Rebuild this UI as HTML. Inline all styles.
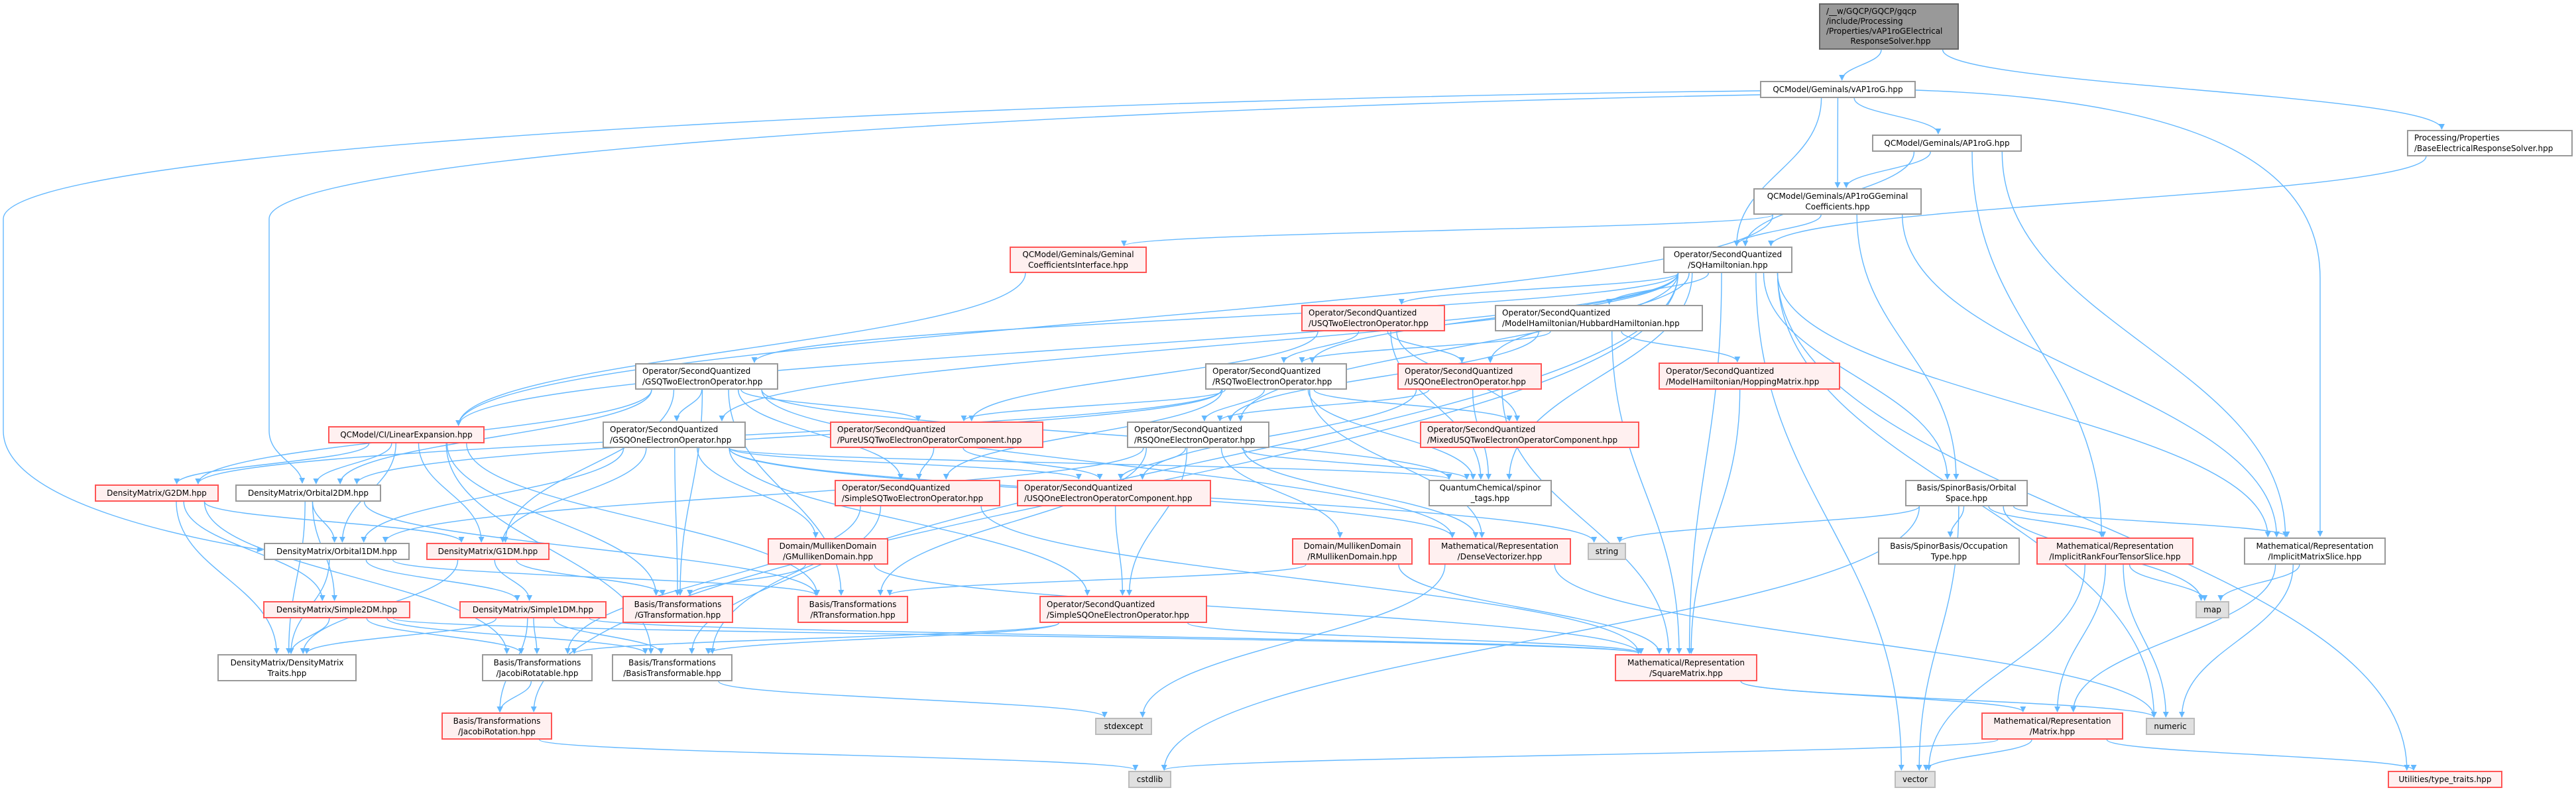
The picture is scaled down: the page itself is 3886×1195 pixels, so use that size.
<!DOCTYPE html>
<html><head><meta charset="utf-8">
<style>
html,body{margin:0;padding:0;background:#fff;}
#wrap{position:relative;width:3886px;height:1195px;overflow:hidden;background:#fff;}
svg{position:absolute;left:0;top:0;}
.n{position:absolute;box-sizing:border-box;border:2px solid #999;background:#fff;font-family:"DejaVu Sans","Liberation Sans",sans-serif;font-size:12px;line-height:16px;color:#000;display:flex;flex-direction:column;justify-content:center;text-align:center;white-space:nowrap;padding:0 4px;}
.r{border-color:#f55;background:#fff0f0;}
.e{border-color:#bbb;background:#e0e0e0;}
.root{background:#999;border-color:#666;}
.l{text-align:left;padding-left:9px;}
</style></head><body><div id="wrap">
<svg id="sv" width="3886" height="1195" xmlns="http://www.w3.org/2000/svg">
<defs><marker id="ah" viewBox="0 0 10 10" refX="9" refY="5" markerWidth="9" markerHeight="9" orient="auto" markerUnits="userSpaceOnUse"><path d="M0,0 L10,5 L0,10 z" fill="#63b8ff"/></marker></defs>
<g id="eg" fill="none" stroke="#63b8ff" stroke-width="1.4">
<path d="M2655,137 C1500,150 5,220 5,330 L5,650 C5,760 300,815 396,830" marker-end="url(#ah)"/>
<path d="M2655,143 C1500,165 406,240 406,330 L406,650 C406,690 455,700 456,729" marker-end="url(#ah)"/>
<path d="M2890,136 C3300,150 3500,240 3500,420 L3500,809" marker-end="url(#ah)"/>
</g>
</svg>
<div class="n root l" id="root" style="left:2744px;top:5px;width:211px;height:70px;line-height:15px">/__w/GQCP/GQCP/gqcp<br>/include/Processing<br>/Properties/vAP1roGElectrical<br><span style="display:block;text-align:center">ResponseSolver.hpp</span></div>
<div class="n" id="vap" style="left:2655px;top:122px;width:235px;height:26px">QCModel/Geminals/vAP1roG.hpp</div>
<div class="n" id="ap" style="left:2824px;top:203px;width:226px;height:26px">QCModel/Geminals/AP1roG.hpp</div>
<div class="n l" id="ber" style="left:3631px;top:196px;width:250px;height:40px">Processing/Properties<br>/BaseElectricalResponseSolver.hpp</div>
<div class="n" id="apgc" style="left:2645px;top:284px;width:254px;height:40px">QCModel/Geminals/AP1roGGeminal<br>Coefficients.hpp</div>
<div class="n r" id="gci" style="left:1523px;top:372px;width:207px;height:40px">QCModel/Geminals/Geminal<br>CoefficientsInterface.hpp</div>
<div class="n" id="sqh" style="left:2509px;top:372px;width:195px;height:40px">Operator/SecondQuantized<br>/SQHamiltonian.hpp</div>
<div class="n r l" id="usq2" style="left:1963px;top:460px;width:217px;height:40px">Operator/SecondQuantized<br>/USQTwoElectronOperator.hpp</div>
<div class="n l" id="hub" style="left:2255px;top:460px;width:314px;height:40px">Operator/SecondQuantized<br>/ModelHamiltonian/HubbardHamiltonian.hpp</div>
<div class="n r l" id="hop" style="left:2502px;top:547px;width:274px;height:41px">Operator/SecondQuantized<br>/ModelHamiltonian/HoppingMatrix.hpp</div>
<div class="n l" id="rsq2" style="left:1818px;top:548px;width:214px;height:40px">Operator/SecondQuantized<br>/RSQTwoElectronOperator.hpp</div>
<div class="n r l" id="usq1" style="left:2108px;top:548px;width:218px;height:40px">Operator/SecondQuantized<br>/USQOneElectronOperator.hpp</div>
<div class="n l" id="gsq2" style="left:958px;top:548px;width:216px;height:40px">Operator/SecondQuantized<br>/GSQTwoElectronOperator.hpp</div>
<div class="n r" id="lin" style="left:495px;top:643px;width:236px;height:26px">QCModel/CI/LinearExpansion.hpp</div>
<div class="n l" id="gsq1" style="left:909px;top:636px;width:216px;height:40px">Operator/SecondQuantized<br>/GSQOneElectronOperator.hpp</div>
<div class="n r l" id="pure" style="left:1252px;top:636px;width:322px;height:40px">Operator/SecondQuantized<br>/PureUSQTwoElectronOperatorComponent.hpp</div>
<div class="n l" id="rsq1" style="left:1700px;top:636px;width:215px;height:40px">Operator/SecondQuantized<br>/RSQOneElectronOperator.hpp</div>
<div class="n r l" id="mixed" style="left:2142px;top:636px;width:331px;height:40px">Operator/SecondQuantized<br>/MixedUSQTwoElectronOperatorComponent.hpp</div>
<div class="n" id="orbs" style="left:2874px;top:724px;width:185px;height:40px">Basis/SpinorBasis/Orbital<br>Space.hpp</div>
<div class="n r" id="g2" style="left:143px;top:731px;width:187px;height:26px">DensityMatrix/G2DM.hpp</div>
<div class="n" id="o2" style="left:355px;top:731px;width:220px;height:26px">DensityMatrix/Orbital2DM.hpp</div>
<div class="n r l" id="ss2" style="left:1259px;top:724px;width:250px;height:40px">Operator/SecondQuantized<br>/SimpleSQTwoElectronOperator.hpp</div>
<div class="n r l" id="uoc" style="left:1534px;top:724px;width:293px;height:40px">Operator/SecondQuantized<br>/USQOneElectronOperatorComponent.hpp</div>
<div class="n" id="spin" style="left:2155px;top:724px;width:186px;height:40px">QuantumChemical/spinor<br>_tags.hpp</div>
<div class="n" id="o1" style="left:398px;top:819px;width:220px;height:26px">DensityMatrix/Orbital1DM.hpp</div>
<div class="n r" id="g1" style="left:643px;top:819px;width:186px;height:26px">DensityMatrix/G1DM.hpp</div>
<div class="n r" id="gmul" style="left:1158px;top:812px;width:182px;height:40px">Domain/MullikenDomain<br>/GMullikenDomain.hpp</div>
<div class="n r" id="rmul" style="left:1949px;top:812px;width:182px;height:40px">Domain/MullikenDomain<br>/RMullikenDomain.hpp</div>
<div class="n r" id="dv" style="left:2155px;top:812px;width:215px;height:40px">Mathematical/Representation<br>/DenseVectorizer.hpp</div>
<div class="n e" id="str" style="left:2395px;top:819px;width:58px;height:26px">string</div>
<div class="n" id="occ" style="left:2833px;top:811px;width:214px;height:41px">Basis/SpinorBasis/Occupation<br>Type.hpp</div>
<div class="n r" id="ir4" style="left:3072px;top:811px;width:237px;height:41px">Mathematical/Representation<br>/ImplicitRankFourTensorSlice.hpp</div>
<div class="n" id="ims" style="left:3385px;top:811px;width:214px;height:41px">Mathematical/Representation<br>/ImplicitMatrixSlice.hpp</div>
<div class="n r" id="s2" style="left:397px;top:907px;width:222px;height:26px">DensityMatrix/Simple2DM.hpp</div>
<div class="n r" id="s1" style="left:693px;top:907px;width:222px;height:26px">DensityMatrix/Simple1DM.hpp</div>
<div class="n r" id="gt" style="left:939px;top:899px;width:167px;height:41px">Basis/Transformations<br>/GTransformation.hpp</div>
<div class="n r" id="rt" style="left:1203px;top:899px;width:167px;height:41px">Basis/Transformations<br>/RTransformation.hpp</div>
<div class="n r l" id="ss1" style="left:1568px;top:899px;width:253px;height:41px">Operator/SecondQuantized<br>/SimpleSQOneElectronOperator.hpp</div>
<div class="n e" id="map" style="left:3312px;top:907px;width:51px;height:26px">map</div>
<div class="n" id="dmt" style="left:328px;top:987px;width:210px;height:41px">DensityMatrix/DensityMatrix<br>Traits.hpp</div>
<div class="n" id="jr" style="left:727px;top:987px;width:167px;height:41px">Basis/Transformations<br>/JacobiRotatable.hpp</div>
<div class="n" id="bt" style="left:923px;top:987px;width:182px;height:41px">Basis/Transformations<br>/BasisTransformable.hpp</div>
<div class="n r" id="sqm" style="left:2436px;top:987px;width:215px;height:41px">Mathematical/Representation<br>/SquareMatrix.hpp</div>
<div class="n r" id="jrot" style="left:666px;top:1075px;width:167px;height:41px">Basis/Transformations<br>/JacobiRotation.hpp</div>
<div class="n e" id="stde" style="left:1652px;top:1083px;width:86px;height:26px">stdexcept</div>
<div class="n r" id="mat" style="left:2989px;top:1075px;width:214px;height:41px">Mathematical/Representation<br>/Matrix.hpp</div>
<div class="n e" id="num" style="left:3237px;top:1083px;width:74px;height:26px">numeric</div>
<div class="n e" id="cstd" style="left:1702px;top:1163px;width:65px;height:26px">cstdlib</div>
<div class="n e" id="vec" style="left:2858px;top:1163px;width:62px;height:26px">vector</div>
<div class="n r" id="tt" style="left:3602px;top:1163px;width:173px;height:26px">Utilities/type_traits.hpp</div>
</div>
<script>
var E="root>vap root>ber ber>sqh vap>ap vap>apgc vap>sqh ap>apgc ap>sqh ap>ir4 ap>ims apgc>sqh apgc>gci apgc>lin apgc>orbs apgc>ims gci>lin "+
"sqh>usq2 sqh>hub sqh>rsq2 sqh>usq1 sqh>gsq2 sqh>gsq1 sqh>rsq1 sqh>orbs sqh>spin sqh>tt sqh>vec sqh>num sqh>sqm sqh>ims sqh>jrot sqh>bt sqh>lin "+
"usq2>rsq2 usq2>usq1 usq2>pure usq2>mixed usq2>spin hub>hop hub>rsq2 hub>rsq1 hub>sqm hop>sqm "+
"rsq2>rsq1 rsq2>pure rsq2>mixed rsq2>spin rsq2>ss2 rsq2>dv rsq2>g2 rsq2>o2 usq1>rsq1 usq1>uoc usq1>spin usq1>sqm "+
"gsq2>gsq1 gsq2>pure gsq2>g2 gsq2>g1 gsq2>gt gsq2>dv gsq2>spin gsq2>ss2 gsq2>o2 gsq2>rt "+
"gsq1>g1 gsq1>gmul gsq1>gt gsq1>ss1 gsq1>o1 gsq1>dv gsq1>uoc gsq1>spin gsq1>str "+
"rsq1>rmul rsq1>rt rsq1>ss1 rsq1>dv rsq1>spin rsq1>o1 rsq1>uoc pure>ss2 pure>uoc ss2>bt ss2>jr ss2>sqm uoc>ss1 ss1>bt ss1>jr ss1>sqm "+
"lin>g2 lin>o2 lin>o1 lin>g1 lin>gt lin>rt lin>bt g2>g1 g2>s2 g2>dmt g2>jr o2>o1 o2>s2 o2>dmt o2>rt o1>s1 o1>dmt o1>rt g1>s1 g1>gt g1>dmt "+
"s2>dmt s2>jr s2>bt s2>sqm s1>dmt s1>jr s1>bt s1>jrot s1>sqm jr>jrot jrot>cstd bt>stde gmul>gt gmul>sqm rmul>rt rmul>sqm dv>stde dv>num "+
"sqm>mat sqm>num mat>vec mat>tt mat>cstd orbs>occ orbs>ir4 orbs>ims orbs>map orbs>vec orbs>str orbs>cstd ir4>map ir4>mat ir4>num ir4>vec ims>map ims>mat ims>num";
function R(id){var d=document.getElementById(id);return {x:d.offsetLeft,y:d.offsetTop,w:d.offsetWidth,h:d.offsetHeight};}
function cl(v,m){return Math.max(-m,Math.min(m,v));}
var g=document.getElementById('eg'),s="";
E.split(/\s+/).forEach(function(p){if(!p)return;var q=p.split('>'),a=R(q[0]),b=R(q[1]);
var acx=a.x+a.w/2,bcx=b.x+b.w/2,d;
if(b.y>a.y+a.h+4){var sx=acx+cl((bcx-acx)*0.15,a.w/2.6),sy=a.y+a.h,ex=bcx+cl((acx-bcx)*0.08,b.w/3),ey=b.y-1;
var dy=ey-sy;d="M"+sx+","+sy+" C"+sx+","+(sy+dy*0.45)+" "+ex+","+(ey-dy*0.45)+" "+ex+","+ey;}
else{var sx,ex,sy=a.y+a.h/2,ey=b.y+b.h/2;if(bcx<acx){sx=a.x;ex=b.x+b.w+1;}else{sx=a.x+a.w;ex=b.x-1;}
var dx=ex-sx;d="M"+sx+","+sy+" C"+(sx+dx*0.4)+","+sy+" "+(ex-dx*0.4)+","+ey+" "+ex+","+ey;}
s+='<path d="'+d+'" marker-end="url(#ah)"/>';});
g.innerHTML+=s;
</script>
</body></html>
